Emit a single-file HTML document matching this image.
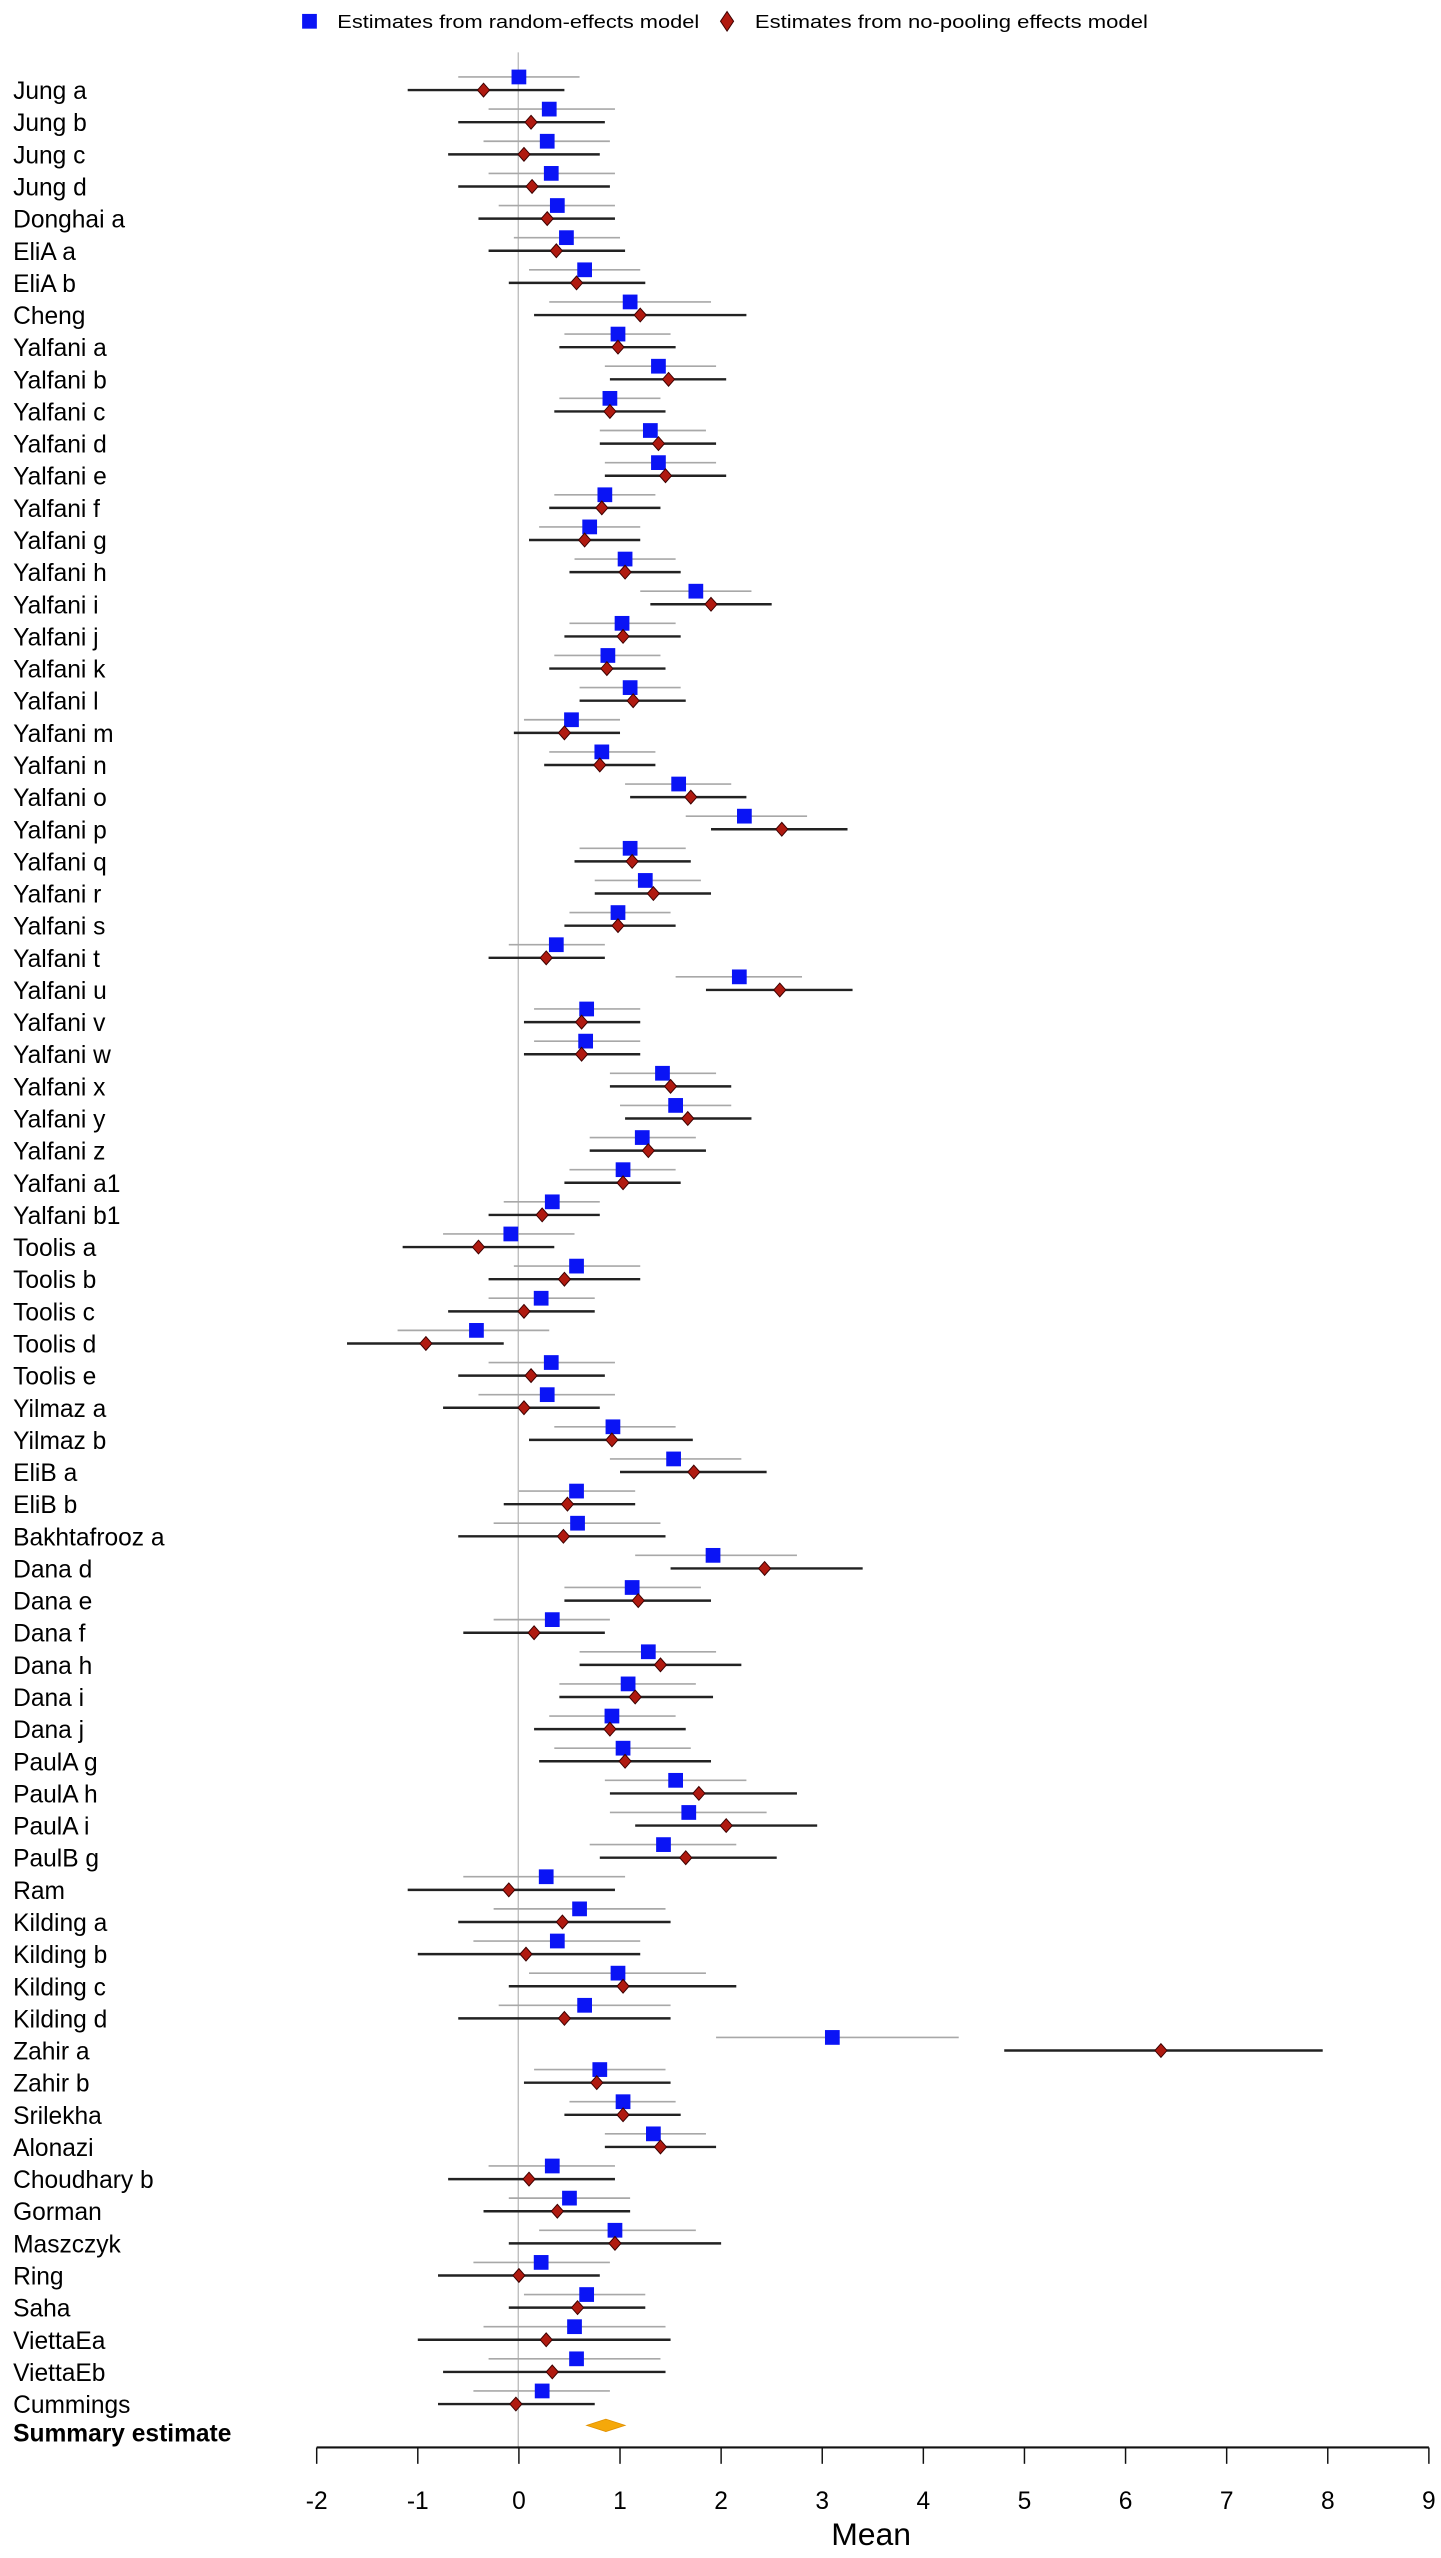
<!DOCTYPE html>
<html><head><meta charset="utf-8"><style>
html,body{margin:0;padding:0;background:#fff;}
svg{display:block;font-family:"Liberation Sans",Arial,sans-serif;}
</style></head><body>
<svg id="chart" width="1441" height="2558" viewBox="0 0 880 1562" preserveAspectRatio="none" xmlns="http://www.w3.org/2000/svg">
<g>
<rect x="184.5" y="8.5" width="9" height="9" fill="#0a14f5"/>
<text x="206" y="17" font-size="11.5" textLength="221" lengthAdjust="spacingAndGlyphs">Estimates from random-effects model</text>
<path d="M444 7 L448 13 L444 19 L440 13 Z" fill="#b01a10" stroke="#3a0000" stroke-width="0.6"/>
<text x="461" y="17" font-size="11.5" textLength="240" lengthAdjust="spacingAndGlyphs">Estimates from no-pooling effects model</text>
</g>
<line x1="316.5" y1="32" x2="316.5" y2="1494" stroke="#bbb" stroke-width="0.8"/>
<g id="rows"></g>
<g id="axis"></g>
<text x="532" y="1554" font-size="19.5" text-anchor="middle">Mean</text>
<text x="8" y="1491" font-size="15" font-weight="bold">Summary estimate</text>
</svg>
<script>
const labels = ["Jung a","Jung b","Jung c","Jung d","Donghai a","EliA a","EliA b","Cheng","Yalfani a","Yalfani b","Yalfani c","Yalfani d","Yalfani e","Yalfani f","Yalfani g","Yalfani h","Yalfani i","Yalfani j","Yalfani k","Yalfani l","Yalfani m","Yalfani n","Yalfani o","Yalfani p","Yalfani q","Yalfani r","Yalfani s","Yalfani t","Yalfani u","Yalfani v","Yalfani w","Yalfani x","Yalfani y","Yalfani z","Yalfani a1","Yalfani b1","Toolis a","Toolis b","Toolis c","Toolis d","Toolis e","Yilmaz a","Yilmaz b","EliB a","EliB b","Bakhtafrooz a","Dana d","Dana e","Dana f","Dana h","Dana i","Dana j","PaulA g","PaulA h","PaulA i","PaulB g","Ram","Kilding a","Kilding b","Kilding c","Kilding d","Zahir a","Zahir b","Srilekha","Alonazi","Choudhary b","Gorman","Maszczyk","Ring","Saha","ViettaEa","ViettaEb","Cummings"];
const reMean = [0.0,0.3,0.28,0.32,0.38,0.47,0.65,1.1,0.98,1.38,0.9,1.3,1.38,0.85,0.7,1.05,1.75,1.02,0.88,1.1,0.52,0.82,1.58,2.23,1.1,1.25,0.98,0.37,2.18,0.67,0.66,1.42,1.55,1.22,1.03,0.33,-0.08,0.57,0.22,-0.42,0.32,0.28,0.93,1.53,0.57,0.58,1.92,1.12,0.33,1.28,1.08,0.92,1.03,1.55,1.68,1.43,0.27,0.6,0.38,0.98,0.65,3.1,0.8,1.03,1.33,0.33,0.5,0.95,0.22,0.67,0.55,0.57,0.23];
const reLo = [-0.6,-0.3,-0.35,-0.3,-0.2,-0.05,0.1,0.3,0.45,0.85,0.4,0.8,0.85,0.35,0.2,0.55,1.2,0.5,0.35,0.6,0.05,0.3,1.05,1.65,0.6,0.75,0.5,-0.1,1.55,0.15,0.15,0.9,1.0,0.7,0.5,-0.15,-0.75,-0.05,-0.3,-1.2,-0.3,-0.4,0.35,0.9,0.0,-0.25,1.15,0.45,-0.25,0.6,0.4,0.3,0.35,0.85,0.9,0.7,-0.55,-0.25,-0.45,0.1,-0.2,1.95,0.15,0.5,0.85,-0.3,-0.1,0.2,-0.45,0.05,-0.35,-0.3,-0.45];
const reHi = [0.6,0.95,0.9,0.95,0.95,1.0,1.2,1.9,1.5,1.95,1.4,1.85,1.95,1.35,1.2,1.55,2.3,1.55,1.4,1.6,1.0,1.35,2.1,2.85,1.65,1.8,1.5,0.85,2.8,1.2,1.2,1.95,2.1,1.75,1.55,0.8,0.55,1.2,0.75,0.3,0.95,0.95,1.55,2.2,1.15,1.4,2.75,1.8,0.9,1.95,1.75,1.55,1.7,2.25,2.45,2.15,1.05,1.45,1.2,1.85,1.5,4.35,1.45,1.55,1.85,0.95,1.1,1.75,0.9,1.25,1.45,1.4,0.9];
const npMean = [-0.35,0.12,0.05,0.13,0.28,0.37,0.57,1.2,0.98,1.48,0.9,1.38,1.45,0.82,0.65,1.05,1.9,1.03,0.87,1.13,0.45,0.8,1.7,2.6,1.12,1.33,0.98,0.27,2.58,0.62,0.62,1.5,1.67,1.28,1.03,0.23,-0.4,0.45,0.05,-0.92,0.12,0.05,0.92,1.73,0.48,0.44,2.43,1.18,0.15,1.4,1.15,0.9,1.05,1.78,2.05,1.65,-0.1,0.43,0.07,1.03,0.45,6.35,0.77,1.03,1.4,0.1,0.38,0.95,0.0,0.58,0.27,0.33,-0.03];
const npLo = [-1.1,-0.6,-0.7,-0.6,-0.4,-0.3,-0.1,0.15,0.4,0.9,0.35,0.8,0.85,0.3,0.1,0.5,1.3,0.45,0.3,0.6,-0.05,0.25,1.1,1.9,0.55,0.75,0.45,-0.3,1.85,0.05,0.05,0.9,1.05,0.7,0.45,-0.3,-1.15,-0.3,-0.7,-1.7,-0.6,-0.75,0.1,1.0,-0.15,-0.6,1.5,0.45,-0.55,0.6,0.4,0.15,0.2,0.9,1.15,0.8,-1.1,-0.6,-1.0,-0.1,-0.6,4.8,0.05,0.45,0.85,-0.7,-0.35,-0.1,-0.8,-0.1,-1.0,-0.75,-0.8];
const npHi = [0.45,0.85,0.8,0.9,0.95,1.05,1.25,2.25,1.55,2.05,1.45,1.95,2.05,1.4,1.2,1.6,2.5,1.6,1.45,1.65,1.0,1.35,2.25,3.25,1.7,1.9,1.55,0.85,3.3,1.2,1.2,2.1,2.3,1.85,1.6,0.8,0.35,1.2,0.75,-0.15,0.85,0.8,1.72,2.45,1.15,1.45,3.4,1.9,0.85,2.2,1.92,1.65,1.9,2.75,2.95,2.55,0.95,1.5,1.2,2.15,1.5,7.95,1.5,1.6,1.95,0.95,1.1,2.0,0.8,1.25,1.5,1.45,0.75];
const summaryMean = [0.86];
const summaryLo = [0.67];
const summaryHi = [1.05];
const tickValues = [-2,-1,0,1,2,3,4,5,6,7,8,9];

const NS = "http://www.w3.org/2000/svg";
const X0 = 193.4, X1 = 872.6, VMIN = -2, VMAX = 9;
function xs(v){ return X0 + (v - VMIN) * (X1 - X0) / (VMAX - VMIN); }
const ROW0 = 55, ROWSTEP = 19.625;
function ys(i){ return ROW0 + i * ROWSTEP; }
function mk(tag, attrs, parent){
  const e = document.createElementNS(NS, tag);
  for (const k in attrs) e.setAttribute(k, attrs[k]);
  parent.appendChild(e);
  return e;
}
const rows = document.getElementById('rows');
labels.forEach((lab, i) => {
  const y = ys(i);
  const g = mk('g', {}, rows);
  
  
  const t = mk('text', {x: 8, y: y + 5.5, 'font-size': 15}, g);
  t.textContent = lab;
  
  
  const ys1 = y - 8;
  const l1 = mk('line', {x1: xs(reLo[i]), x2: xs(reHi[i]), y1: ys1, y2: ys1, stroke: '#a8a8a8', 'stroke-width': 1}, g);
  
  
  const l2 = mk('line', {x1: xs(npLo[i]), x2: xs(npHi[i]), y1: y, y2: y, stroke: '#222', 'stroke-width': 1.5}, g);
  
  
  const sq = mk('rect', {x: xs(reMean[i]) - 4.5, y: ys1 - 4.5, width: 9, height: 9, fill: '#0a14f5'}, g);
  
  
  const cx = xs(npMean[i]);
  const d = mk('path', {d: `M${cx} ${y-4.2} L${cx+3.7} ${y} L${cx} ${y+4.2} L${cx-3.7} ${y} Z`, fill: '#b01a10', stroke: '#3a0000', 'stroke-width': 0.6}, g);
  
  
});
const sy = 1481;
const sm = xs(summaryMean[0]), sl = xs(summaryLo[0]), sh = xs(summaryHi[0]);
const sd = mk('path', {d: `M${sl} ${sy} L${sm} ${sy-3.8} L${sh} ${sy} L${sm} ${sy+3.8} Z`, fill: '#f5a80a', stroke: '#e09000', 'stroke-width': 0.5}, rows);


const ax = document.getElementById('axis');
const al = mk('line', {x1: X0, x2: X1, y1: 1494.5, y2: 1494.5, stroke: '#111', 'stroke-width': 1.3}, ax);


tickValues.forEach(v => {
  const tk = mk('line', {x1: xs(v), x2: xs(v), y1: 1494.5, y2: 1504.5, stroke: '#111', 'stroke-width': 0.9}, ax);
  
  
  const tl = mk('text', {x: xs(v), y: 1532, 'font-size': 15, 'text-anchor': 'middle'}, ax);
  tl.textContent = String(v);
  
  
});
</script>
</body></html>
